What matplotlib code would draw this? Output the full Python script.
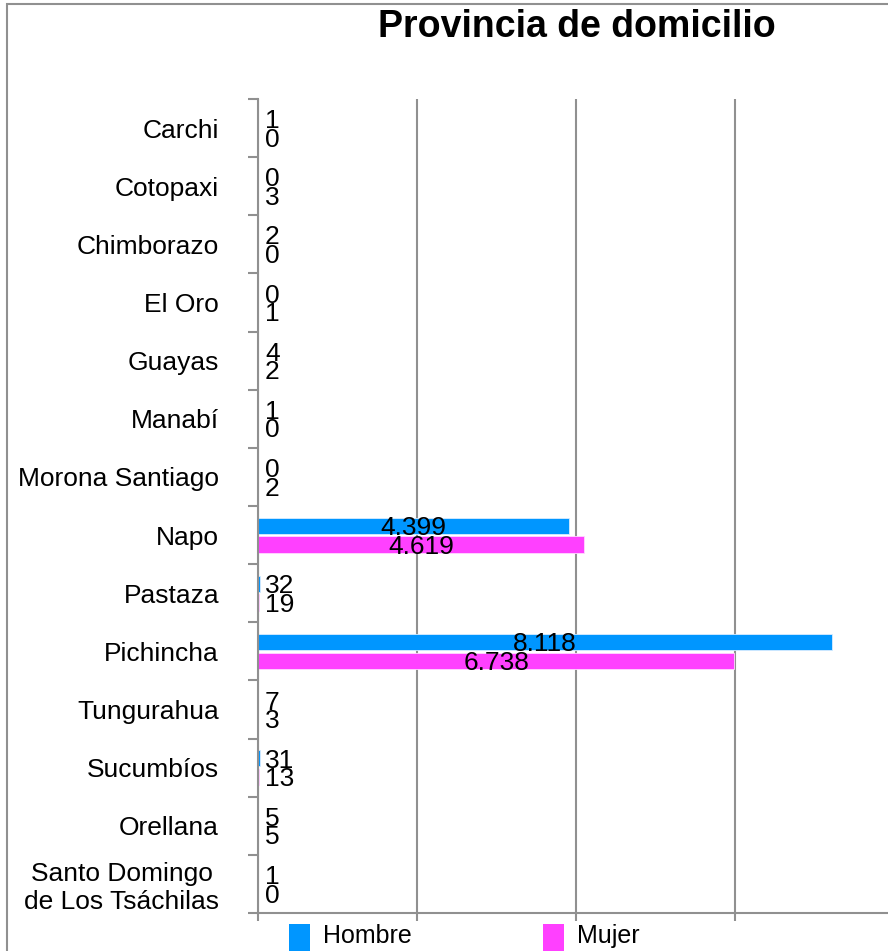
import matplotlib.pyplot as plt
import numpy as np
from matplotlib.patches import Rectangle

plt.rcParams['font.family'] = ['Liberation Sans', 'DejaVu Sans']

provincias = ["Carchi", "Cotopaxi", "Chimborazo", "El Oro", "Guayas", "Manabí",
              "Morona Santiago", "Napo", "Pastaza", "Pichincha", "Tungurahua",
              "Sucumbíos", "Orellana", "Santo Domingo\nde Los Tsáchilas"]
hombre = [1, 0, 2, 0, 4, 1, 0, 4399, 32, 8118, 7, 31, 5, 1]
mujer = [0, 3, 0, 1, 2, 0, 2, 4619, 19, 6738, 3, 13, 5, 0]
series = ["Hombre", "Mujer"]
colores = ["#0096FF", "#FF40FF"]

W, H = 888, 951
fig = plt.figure(figsize=(W / 100, H / 100), dpi=100)

# marco gris del grafico (solo se ven los bordes izquierdo y superior)
fig.add_artist(Rectangle((7 / W, -0.1), 1.2, 1 - 4 / H + 0.1, transform=fig.transFigure,
                         fill=False, edgecolor="#909090", linewidth=1.5))

ax = fig.add_axes([258 / W, 1 - 913 / H, 636 / W, 814 / H])
gris = "#909090"

y = np.arange(len(provincias))
alto = 0.28
off = 0.16
ax.barh(y - off, hombre, height=alto, color=colores[0], edgecolor="#d8ecff", linewidth=0.6)
ax.barh(y + off, mujer, height=alto, color=colores[1], edgecolor="#ffd8ff", linewidth=0.6)

def fmt(v):
    return f"{v:,}".replace(",", ".")

for vals, d in ((hombre, -off), (mujer, off)):
    for i, v in enumerate(vals):
        if v < 1000:
            ax.annotate(fmt(v), (0, i + d + 0.04), xytext=(5, 0), textcoords="offset points",
                        ha="left", va="center", fontsize=19)
        else:
            ax.text(v / 2, i + d + 0.04, fmt(v), ha="center", va="center", fontsize=19)

ax.set_xlim(0, 9000)
ax.set_ylim(len(provincias) - 0.5, -0.5)

ax.set_xticks([0, 2250, 4500, 6750])
ax.set_xticklabels([])
ax.tick_params(axis="x", length=6, width=1.5, color=gris, direction="out")
ax.xaxis.grid(True, color=gris, linewidth=1.5)
ax.set_axisbelow(True)

ax.set_yticks(y)
ax.set_yticklabels(provincias, fontsize=19, multialignment="center")
ax.tick_params(axis="y", which="major", length=0, pad=28)
ax.set_yticks(np.arange(-0.5, len(provincias)), minor=True)
ax.tick_params(axis="y", which="minor", length=7, width=1.5, color=gris)

for s in ["top", "right"]:
    ax.spines[s].set_visible(False)
for s in ["left", "bottom"]:
    ax.spines[s].set_color(gris)
    ax.spines[s].set_linewidth(1.5)

fig.text(577 / W, 1 - 27 / H, "Provincia de domicilio", ha="center", va="center",
         fontsize=27, fontweight="bold")

# leyenda manual bajo el eje
for nombre, color, x0 in zip(series, colores, [289, 543]):
    fig.add_artist(Rectangle((x0 / W, 1 - 951 / H), 21 / W, 27 / H,
                             transform=fig.transFigure, facecolor=color, edgecolor="none"))
    fig.text((x0 + 34) / W, 1 - 943 / H, nombre, ha="left", va="baseline", fontsize=18)

fig.savefig("out.png", dpi=100)
